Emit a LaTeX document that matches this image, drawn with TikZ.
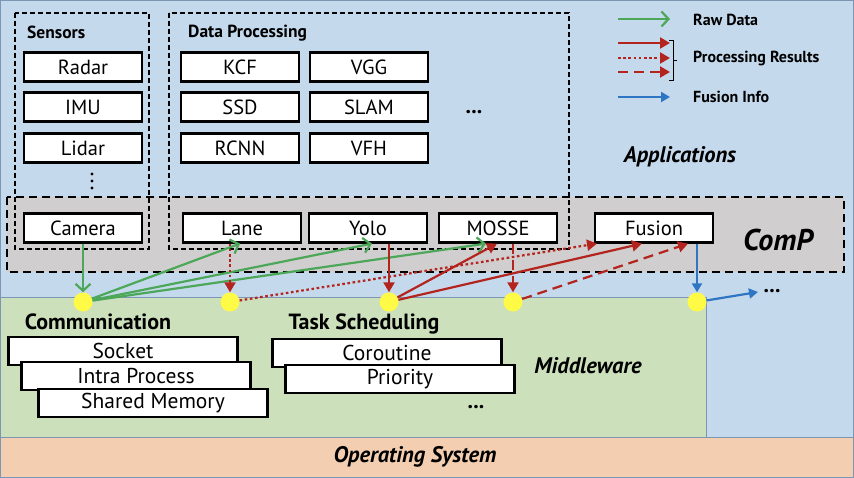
\documentclass[tikz,border=0pt]{standalone}
\usepackage{fontspec}
\setmainfont{PT Sans}
\usetikzlibrary{arrows.meta}
\definecolor{appblue}{RGB}{197,217,237}
\definecolor{midgreen}{RGB}{204,224,188}
\definecolor{osorange}{RGB}{243,206,177}
\definecolor{compgrey}{RGB}{208,206,206}
\definecolor{dotyellow}{RGB}{255,250,70}
\definecolor{rawgreen}{RGB}{76,168,88}
\definecolor{resred}{RGB}{180,36,30}
\definecolor{fusblue}{RGB}{46,117,196}
\definecolor{layerline}{RGB}{125,150,180}
\tikzset{
  modbox/.style={draw=black, line width=2.2pt, fill=white, minimum width=118pt, minimum height=29pt, inner sep=0pt, font=\fontsize{20.5}{22}\selectfont},
  mwbox/.style={draw=black, line width=2.2pt, fill=white, minimum width=229pt, minimum height=28pt, inner sep=0pt, font=\fontsize{21.5}{22}\selectfont},
  groupbox/.style={draw=black, line width=1.1pt, dash pattern=on 5pt off 3pt},
  compbox/.style={draw=black, fill=compgrey, line width=1.3pt, dash pattern=on 8pt off 5pt},
  layer/.style={draw=layerline, line width=1pt},
  ydot/.style={circle, fill=dotyellow, minimum size=19pt, inner sep=0pt},
  rawarrow/.style={draw=rawgreen, line width=2.2pt, -{Straight Barb[length=7pt,width=15pt,line width=2.2pt]}},
  resarrow/.style={draw=resred, line width=2.2pt, -{Triangle[length=10pt,width=11pt]}},
  resdotted/.style={resarrow, dash pattern=on 2.6pt off 2.6pt},
  resdashed/.style={resarrow, dash pattern=on 10pt off 6pt},
  fusarrow/.style={draw=fusblue, line width=2.2pt, -{Triangle[length=9pt,width=10pt]}},
  grouplabel/.style={font=\fontsize{17.5}{19}\selectfont\bfseries, anchor=west, inner sep=0pt},
  leglabel/.style={font=\fontsize{16}{18}\selectfont\bfseries, anchor=west, inner sep=0pt},
  mwlabel/.style={font=\fontsize{22}{24}\selectfont\bfseries, inner sep=0pt},
  layerlabel/.style={font=\fontsize{22.5}{24}\selectfont\bfseries\itshape, inner sep=0pt},
  morelabel/.style={font=\fontsize{22}{24}\selectfont\bfseries, inner sep=0pt},
}
\begin{document}
\begin{tikzpicture}[x=1pt,y=-1pt]
\useasboundingbox (0,0) rectangle (854,478);
% layers
\filldraw[layer, fill=appblue] (0.5,0.5) -- (853.5,0.5) -- (853.5,437) -- (706,437) -- (706,298) -- (0.5,298) -- cycle;
\filldraw[layer, fill=midgreen] (0.5,298) rectangle (706,437);
\filldraw[layer, fill=osorange] (0.5,437) rectangle (853.5,477.5);
% ComP
\filldraw[compbox] (7,197) rectangle (844,272);
% groups
\draw[groupbox] (15,13) rectangle (149,249);
\draw[groupbox] (169,13) rectangle (569,249);
\node[grouplabel] (senslbl) at (27,32) {Sensors};
\node[grouplabel] (dplbl) at (188,33) {Data Processing};
% sensor boxes
\node[modbox] (radar) at (83,67) {Radar};
\node[modbox] (imu) at (83,107) {IMU};
\node[modbox] (lidar) at (83,148) {Lidar};
\fill[black] (92,174) circle (1.6) (92,181) circle (1.6) (92,188) circle (1.6);
\node[modbox] (camera) at (83,228) {Camera};
% processing boxes
\node[modbox] (kcf) at (240,67) {KCF};
\node[modbox] (vgg) at (369,67) {VGG};
\node[modbox] (ssd) at (240,107) {SSD};
\node[modbox] (slam) at (369,107) {SLAM};
\node[modbox] (rcnn) at (240,148) {RCNN};
\node[modbox] (vfh) at (369,148) {VFH};
\node[morelabel] (dpdots) at (474,112) {...};
\node[modbox] (lane) at (242,228) {Lane};
\node[modbox] (yolo) at (368,228) {Yolo};
\node[modbox] (mosse) at (498,228) {MOSSE};
\node[modbox] (fusion) at (654,228) {Fusion};
% layer labels
\node[layerlabel] (applbl) at (680,157) {Applications};
\node[font=\fontsize{30}{32}\selectfont\bfseries\itshape, inner sep=0pt] (complbl) at (778,240) {ComP};
\node[layerlabel] (mwlbl) at (588,366) {Middleware};
\node[layerlabel] (oslbl) at (415,457) {Operating System};
% dots
\node[ydot] (dot1) at (83,302) {};
\node[ydot] (dot2) at (230,302) {};
\node[ydot] (dot3) at (389,302) {};
\node[ydot] (dot4) at (513,302) {};
\node[ydot] (dot5) at (697,302) {};
% raw data
\draw[rawarrow] (camera.south) -- (dot1.north);
\draw[rawarrow] (dot1) -- ([xshift=-2pt]lane.south);
\draw[rawarrow] (dot1) -- ([xshift=4pt]yolo.south);
\draw[rawarrow] (dot1) -- ([xshift=-12pt]mosse.south);
% processing results
\draw[resdotted] ([xshift=-12pt]lane.south) -- (dot2.north);
\draw[resdotted] (dot2) -- ([xshift=-57pt]fusion.south);
\draw[resarrow] ([xshift=21pt]yolo.south) -- (dot3.north);
\draw[resarrow] (dot3) -- ([xshift=-1pt]mosse.south);
\draw[resarrow] (dot3) -- ([xshift=-12pt]fusion.south);
\draw[resdashed] ([xshift=15pt]mosse.south) -- (dot4.north);
\draw[resdashed] (dot4) -- ([xshift=34pt]fusion.south);
% fusion info
\draw[fusarrow] ([xshift=43pt]fusion.south) -- (dot5.north);
\coordinate (fusend) at (758,292);
\draw[fusarrow] (dot5) -- (fusend);
\node[morelabel] (fusdots) at (772,291) {...};
% middleware
\node[mwlabel] (commlbl) at (98,322) {Communication};
\node[mwbox] (socket) at (123,351) {Socket};
\node[mwbox] (intra) at (136,376) {Intra Process};
\node[mwbox] (shared) at (153,403) {Shared Memory};
\node[mwlabel] (tasklbl) at (364,324) {Task Scheduling};
\node[mwbox] (corout) at (387,353) {Coroutine};
\node[mwbox] (prio) at (400,379) {Priority};
\node[morelabel] (mwdots) at (476,407) {...};
% legend
\coordinate (lgA1) at (618,19); \coordinate (lgA2) at (670,19);
\coordinate (lgB1) at (618,43); \coordinate (lgB2) at (670,43);
\coordinate (lgC1) at (618,58); \coordinate (lgC2) at (670,58);
\coordinate (lgD1) at (618,72); \coordinate (lgD2) at (670,72);
\coordinate (lgE1) at (618,97); \coordinate (lgE2) at (670,97);
\draw[rawarrow] (lgA1) -- (lgA2);
\draw[resarrow] (lgB1) -- (lgB2);
\draw[resdotted] (lgC1) -- (lgC2);
\draw[resdashed] (lgD1) -- (lgD2);
\draw[fusarrow] (lgE1) -- (lgE2);
\draw[black, line width=0.8pt] (669,40) -- (673,40) -- (673,80) -- (669,80);
\draw[black, line width=0.8pt] (673,60) -- (677,60);
\node[leglabel] (lgraw) at (693,20) {Raw Data};
\node[leglabel] (lgres) at (693,59) {Processing Results};
\node[leglabel] (lgfus) at (693,97) {Fusion Info};
\end{tikzpicture}
\end{document}
